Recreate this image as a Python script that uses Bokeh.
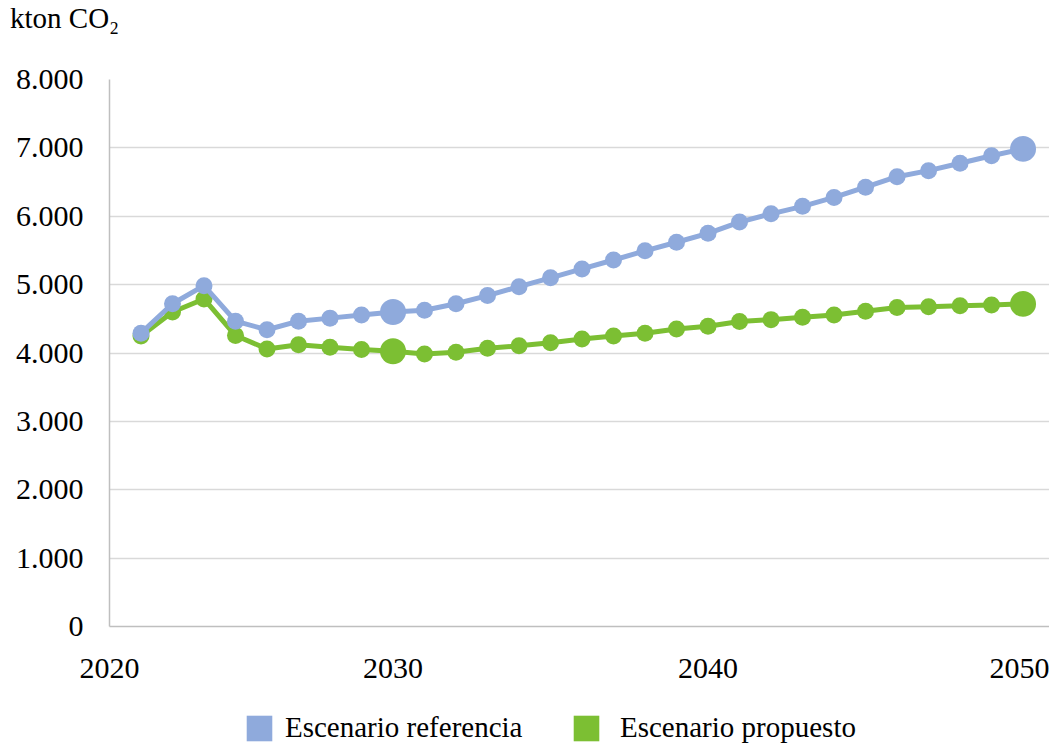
from bokeh.plotting import figure
from bokeh.layouts import column
from bokeh.models import Legend, LegendItem, FixedTicker, Range1d, Div
from bokeh.embed import file_html
from bokeh.resources import INLINE

# ---- data ----
years = list(range(2022, 2051))
referencia = [4290, 4720, 4985, 4465, 4340, 4465, 4510, 4555, 4600, 4625,
              4720, 4840, 4970, 5100, 5230, 5360, 5495, 5620, 5750, 5915,
              6035, 6145, 6275, 6425, 6578, 6667, 6775, 6885, 6985]
propuesto = [4250, 4600, 4790, 4255, 4060, 4120, 4085, 4050, 4025, 3985,
             4010, 4070, 4105, 4150, 4205, 4250, 4290, 4350, 4390, 4460,
             4488, 4522, 4555, 4610, 4665, 4678, 4692, 4703, 4718]
highlight_years = [2030, 2050]
series_names = ["Escenario referencia", "Escenario propuesto"]
y_ticks = [0, 1000, 2000, 3000, 4000, 5000, 6000, 7000, 8000]
y_tick_labels = ["0", "1.000", "2.000", "3.000", "4.000", "5.000", "6.000", "7.000", "8.000"]
x_ticks = [2021, 2030, 2040, 2050]
x_tick_labels = ["2020", "2030", "2040", "2050"]
unit_label = "kton CO\u2082"

# ---- style ----
BLUE = "#8FAADC"
GREEN = "#7CBF33"
FONT = "Liberation Serif"
FS = "30px"

# unit label strip on top
head = Div(text=unit_label, width=1049, height=40, margin=0,
           styles={"font-family": FONT, "font-size": "29px", "color": "black",
                   "line-height": "33px", "padding-left": "10px",
                   "padding-top": "2px", "box-sizing": "border-box"})

p = figure(width=1049, height=650, output_backend="svg", toolbar_location=None,
           x_range=Range1d(2021, 2050.84), y_range=Range1d(0, 8000),
           min_border_left=109, min_border_right=0, min_border_top=39,
           min_border_bottom=64)
p.outline_line_color = None
p.background_fill_color = "white"

# axes
p.xaxis.ticker = FixedTicker(ticks=x_ticks)
p.xaxis.major_label_overrides = dict(zip(x_ticks, x_tick_labels))
p.yaxis.ticker = FixedTicker(ticks=y_ticks)
p.yaxis.major_label_overrides = dict(zip(y_ticks, y_tick_labels))
for ax in (p.xaxis, p.yaxis):
    ax.major_tick_line_color = None
    ax.major_tick_out = 0
    ax.major_tick_in = 0
    ax.minor_tick_line_color = None
    ax.minor_tick_out = 0
    ax.axis_line_color = "#BFBFBF"
    ax.axis_line_width = 1.5
    ax.major_label_text_font = FONT
    ax.major_label_text_font_size = FS
    ax.major_label_text_color = "black"
p.xaxis.major_label_standoff = 32
p.yaxis.major_label_standoff = 26

p.xgrid.grid_line_color = None
p.ygrid.ticker = FixedTicker(ticks=y_ticks)
p.ygrid.grid_line_color = "#D9D9D9"
p.ygrid.grid_line_width = 1.5

# series (green first, blue on top)
for vals, col in ((propuesto, GREEN), (referencia, BLUE)):
    p.line(years, vals, line_color=col, line_width=5, line_join="round")
    p.scatter(years, vals, size=17, fill_color=col, line_color=None)
    hx = [y for y in years if y in highlight_years]
    hy = [v for y, v in zip(years, vals) if y in highlight_years]
    p.scatter(hx, hy, size=26, fill_color=col, line_color=None)

# legend in a strip figure below the chart (its frame is aligned with the chart's)
lf = figure(width=1049, height=56, output_backend="svg", toolbar_location=None,
            x_axis_type=None, y_axis_type=None,
            x_range=Range1d(0, 1), y_range=Range1d(0, 1),
            min_border_left=109, min_border_right=0, min_border_top=0,
            min_border_bottom=0)
lf.outline_line_color = None
lf.xgrid.visible = False
lf.ygrid.visible = False
# legend swatches: area glyphs built from the series (they lie outside this strip's range)
r_ref = lf.quad(left=years, right=years, top=referencia, bottom=referencia,
                fill_color=BLUE, line_color=None)
r_pro = lf.quad(left=years, right=years, top=propuesto, bottom=propuesto,
                fill_color=GREEN, line_color=None)
for name, rend, loc, standoff in ((series_names[0], r_ref, (134, 2), 10),
                                  (series_names[1], r_pro, (461, 2), 18)):
    lf.add_layout(Legend(items=[LegendItem(label=name, renderers=[rend])],
                         orientation="horizontal", location=loc,
                         glyph_width=32, glyph_height=32, label_height=32,
                         label_standoff=standoff, padding=0, margin=0,
                         border_line_color=None, background_fill_alpha=0,
                         label_text_font=FONT, label_text_font_size="29px",
                         label_text_color="black"))

layout = column(head, p, lf, spacing=0)
open("out.html", "w").write(file_html(layout, INLINE))
